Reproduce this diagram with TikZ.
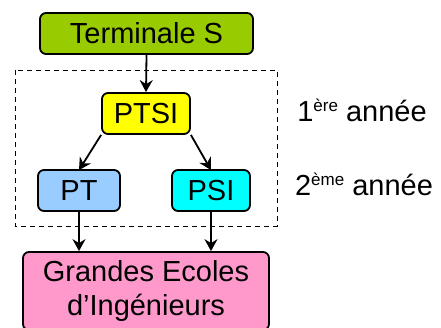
\documentclass[tikz,border=0pt]{standalone}
\usepackage{fontspec}
\setmainfont{Liberation Sans}
\usetikzlibrary{arrows.meta}
\definecolor{cterm}{HTML}{99CC00}
\definecolor{cptsi}{HTML}{FFFF00}
\definecolor{cpt}{HTML}{99CCFF}
\definecolor{cpsi}{HTML}{00FFFF}
\definecolor{cge}{HTML}{FF99CC}
\newcommand{\supx}[1]{\raisebox{10pt}{\fontsize{17}{17}\selectfont #1}}
\begin{document}
\begin{tikzpicture}[x=1pt,y=-1pt,
  boxx/.style={draw=black,line width=1.8pt,rounded corners=6pt,inner sep=0pt,
    font=\fontsize{29}{34}\selectfont,text=black,minimum height=41pt,align=center},
  arr/.style={line width=1.8pt,-{Stealth[length=12pt,width=13pt,inset=4pt]}},
  lab/.style={font=\fontsize{29}{34}\selectfont,inner sep=0pt}]
\useasboundingbox (0,0) rectangle (441,327);
\draw[dashed,line width=1pt,dash pattern=on 5pt off 4pt] (15,70) rectangle (277,226);
\node[boxx,fill=cterm,minimum width=213pt] (term) at (146.5,33.5) {Terminale S};
\node[boxx,fill=cptsi,minimum width=88pt] (ptsi) at (146,113.5) {PTSI};
\node[boxx,fill=cpt,minimum width=82pt] (pt) at (79,190.5) {PT};
\node[boxx,fill=cpsi,minimum width=78pt] (psi) at (211,190.5) {PSI};
\node[boxx,fill=cge,minimum width=246pt,minimum height=78pt] (ge) at (146,291) {Grandes Ecoles\\d’Ingénieurs};
\node[lab] (an1) at (362,110) {1\supx{ère} année};
\node[lab] (an2) at (364,184) {2\supx{ème} année};
\draw[arr] (term.south) -- (ptsi.north);
\draw[arr] (ptsi.south west) -- ([yshift=-1pt]pt.north);
\draw[arr] (ptsi.south east) -- ([yshift=-1pt]psi.north);
\draw[arr] (pt.south) -- (pt.south |- ge.north);
\draw[arr] (psi.south) -- (psi.south |- ge.north);
\end{tikzpicture}
\end{document}
